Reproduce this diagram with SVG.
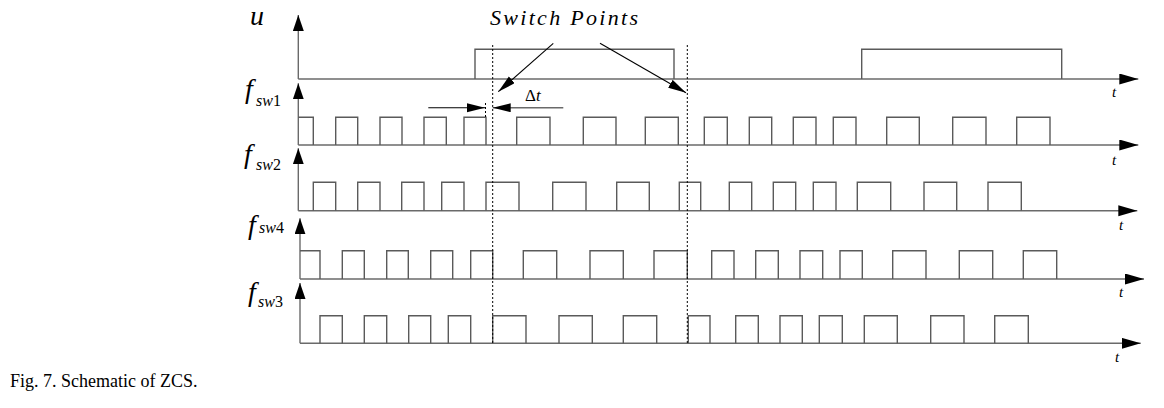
<svg xmlns="http://www.w3.org/2000/svg" width="1164" height="408" viewBox="0 0 1164 408">
<style>
.ax{fill:none;stroke:#6a6a6a;stroke-width:1.4}
.pl{fill:none;stroke:#5a5a5a;stroke-width:1.4}
.dash{fill:none;stroke:#000;stroke-width:1;stroke-dasharray:2,2}
.ln{fill:none;stroke:#000;stroke-width:1.1}
.it{font-family:"Liberation Serif","Times New Roman",serif;font-style:italic;fill:#000}
.rm{font-family:"Liberation Serif","Times New Roman",serif;fill:#000}
.f{font-size:28px}
.s{font-size:16px}
</style>
<defs>
<marker id="ah" markerUnits="userSpaceOnUse" markerWidth="20" markerHeight="12" refX="19" refY="5.5" orient="auto"><path d="M0,0 L19,5.5 L0,11 z" fill="#000"/></marker>
<marker id="av" markerUnits="userSpaceOnUse" markerWidth="17" markerHeight="12" refX="16" refY="5.5" orient="auto"><path d="M0,0 L16,5.5 L0,11 z" fill="#000"/></marker>
<marker id="as" markerUnits="userSpaceOnUse" markerWidth="19" markerHeight="10" refX="18" refY="4.5" orient="auto"><path d="M0,0 L18,4.5 L0,9 z" fill="#000"/></marker>
</defs>

<g id="row-u">
<text class="it" x="250" y="25" font-size="28">u</text>
<line class="ax" x1="298.3" y1="79" x2="298.3" y2="15" marker-end="url(#av)"/>
<line class="ax" x1="298.3" y1="79" x2="1138.3" y2="79" marker-end="url(#ah)"/>
<path class="pl" d="M475,79 V49.3 H674 V79 M861.7,79 V49.3 H1061.7 V79"/>
<text class="it" x="1112" y="97" font-size="15">t</text>
</g>

<g id="row-fsw1">
<text class="it f" x="245" y="98">f</text>
<text class="it s" x="256" y="106">sw<tspan font-style="normal">1</tspan></text>
<line class="ax" x1="298.3" y1="145" x2="298.3" y2="83.3" marker-end="url(#av)"/>
<line class="ax" x1="298.3" y1="145" x2="1138.3" y2="145" marker-end="url(#ah)"/>
<path class="pl" d="M298.3,117.3 H313.3 V145 M335.7,145 V117.3 H357.7 V145 M380,145 V117.3 H402 V145 M424,145 V117.3 H446.3 V145 M464,145 V117.3 H486 V145 M516.7,145 V117.3 H550 V145 M583.3,145 V117.3 H616 V145 M645.3,145 V117.3 H678.3 V145 M704.3,145 V117.3 H727.3 V145 M749.3,145 V117.3 H771.7 V145 M793.3,145 V117.3 H816 V145 M833.3,145 V117.3 H856 V145 M886.7,145 V117.3 H919.3 V145 M952.7,145 V117.3 H986 V145 M1016.7,145 V117.3 H1050 V145"/>
<text class="it" x="1112" y="165" font-size="15">t</text>
</g>

<g id="row-fsw2">
<text class="it f" x="244" y="163">f</text>
<text class="it s" x="256" y="170">sw<tspan font-style="normal">2</tspan></text>
<line class="ax" x1="298.3" y1="210.7" x2="298.3" y2="148.3" marker-end="url(#av)"/>
<line class="ax" x1="298.3" y1="210.7" x2="1137.3" y2="210.7" marker-end="url(#ah)"/>
<path class="pl" d="M313.3,210.7 V182.3 H335.7 V210.7 M357.7,210.7 V182.3 H380 V210.7 M401.7,210.7 V182.3 H424 V210.7 M441.7,210.7 V182.3 H464 V210.7 M486,210.7 V182.3 H519 V210.7 M552.7,210.7 V182.3 H586 V210.7 M616.7,210.7 V182.3 H649.3 V210.7 M679.3,210.7 V182.3 H700.7 V210.7 M729.3,210.7 V182.3 H751.7 V210.7 M773.3,210.7 V182.3 H795.7 V210.7 M813.3,210.7 V182.3 H836 V210.7 M857.3,210.7 V182.3 H890.7 V210.7 M924,210.7 V182.3 H956.7 V210.7 M988,210.7 V182.3 H1021.3 V210.7"/>
<text class="it" x="1119" y="230" font-size="15">t</text>
</g>

<g id="row-fsw4">
<text class="it f" x="248" y="234">f</text>
<text class="it s" x="259" y="233">sw<tspan font-style="normal">4</tspan></text>
<line class="ax" x1="300" y1="279" x2="300" y2="218.3" marker-end="url(#av)"/>
<line class="ax" x1="300" y1="279" x2="1144" y2="279" marker-end="url(#ah)"/>
<path class="pl" d="M300,250.7 H320 V279 M342.3,279 V250.7 H364.3 V279 M386.7,279 V250.7 H408.3 V279 M430.7,279 V250.7 H452.7 V279 M470.7,279 V250.7 H492.7 V279 M523.3,279 V250.7 H556.7 V279 M590,279 V250.7 H623.3 V279 M654,279 V250.7 H687.3 V279 M711.7,279 V250.7 H734 V279 M755.7,279 V250.7 H778.3 V279 M800,279 V250.7 H822.7 V279 M840,279 V250.7 H862.3 V279 M892.7,279 V250.7 H926 V279 M959.3,279 V250.7 H992.7 V279 M1023.3,279 V250.7 H1056.7 V279"/>
<text class="it" x="1119" y="297" font-size="15">t</text>
</g>

<g id="row-fsw3">
<text class="it f" x="248" y="301">f</text>
<text class="it s" x="258" y="307">sw<tspan font-style="normal">3</tspan></text>
<line class="ax" x1="300" y1="343.3" x2="300" y2="283" marker-end="url(#av)"/>
<line class="ax" x1="300" y1="343.3" x2="1140.7" y2="343.3" marker-end="url(#ah)"/>
<path class="pl" d="M320,343.3 V315.7 H342.3 V343.3 M364.3,343.3 V315.7 H386.7 V343.3 M408.7,343.3 V315.7 H430.7 V343.3 M448.3,343.3 V315.7 H470.7 V343.3 M492.7,343.3 V315.7 H526 V343.3 M559,343.3 V315.7 H592.3 V343.3 M623.3,343.3 V315.7 H656.7 V343.3 M688.3,343.3 V315.7 H710 V343.3 M735.7,343.3 V315.7 H758.3 V343.3 M780,343.3 V315.7 H802.3 V343.3 M819.3,343.3 V315.7 H842.3 V343.3 M864.3,343.3 V315.7 H897.3 V343.3 M930.7,343.3 V315.7 H964 V343.3 M994.7,343.3 V315.7 H1028.3 V343.3"/>
<text class="it" x="1115" y="362" font-size="15">t</text>
</g>

<g id="connectors">
<line class="dash" x1="492.7" y1="45" x2="492.7" y2="344"/>
<line class="dash" x1="687.3" y1="45" x2="687.3" y2="345"/>
<line class="dash" x1="485.5" y1="103" x2="485.5" y2="117"/>
<line class="ln" x1="553.3" y1="43.3" x2="498.3" y2="91.7" marker-end="url(#as)"/>
<line class="ln" x1="600" y1="43.3" x2="686" y2="92.7" marker-end="url(#as)"/>
<line class="ln" x1="428.3" y1="107.7" x2="485" y2="107.7" marker-end="url(#as)"/>
<line class="ax" x1="563.3" y1="107.7" x2="492.7" y2="107.7" marker-end="url(#as)"/>
</g>

<g id="labels">
<text class="it" x="490" y="25" font-size="22" textLength="148" lengthAdjust="spacing">Switch Points</text>
<text class="rm" x="525" y="100.7" font-size="17">Δ<tspan font-style="italic">t</tspan></text>
<text class="rm" x="10" y="387" font-size="18">Fig. 7. Schematic of ZCS.</text>
</g>
</svg>
